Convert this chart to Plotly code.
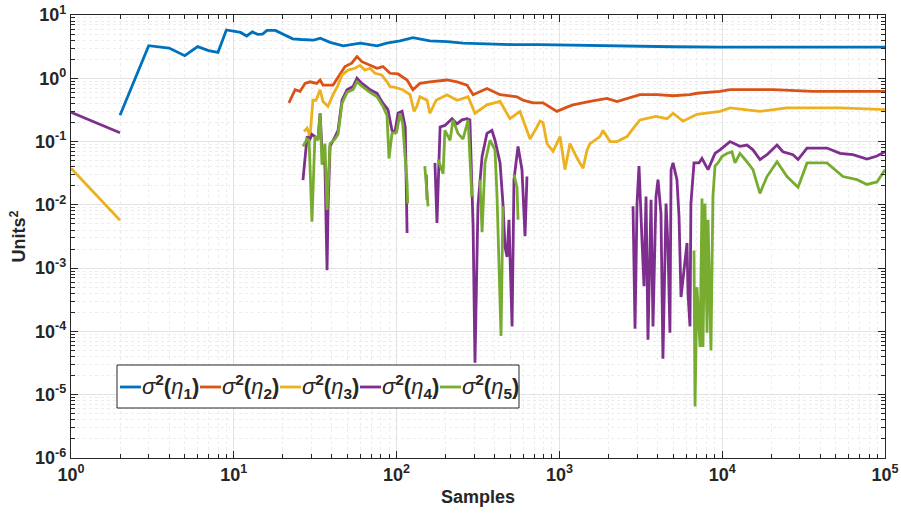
import plotly.graph_objects as go

# Running variance estimates of the five noise terms, (sample, value) pairs.
# A GAP entry breaks the line where the estimate is not positive.
GAP = (None, None)

VAR_ETA1 = [
    (2, 0.26), (3, 3.27), (4, 3.0), (5, 2.27), (6, 3.16), (7, 2.73), (8, 2.57), (9, 5.8),
    (11, 5.3), (12, 4.66), (13, 5.4), (14, 4.95), (15, 5.0), (16, 5.7), (18, 5.7), (20, 5.0),
    (21, 4.7), (23, 4.2), (26, 4.1), (31, 4.0), (34, 4.3), (39, 3.7), (47, 3.25), (60, 3.6),
    (76, 3.25), (87, 3.6), (105, 3.9), (126, 4.4), (160, 3.9), (205, 3.8), (256, 3.6),
    (350, 3.5), (520, 3.4), (750, 3.4), (1050, 3.35), (1774, 3.25), (3000, 3.2), (5000, 3.15),
    (9690, 3.1), (20000, 3.1), (50000, 3.1), (100000, 3.1),
]

VAR_ETA2 = [
    (21.8, 0.41), (23.8, 0.66), (25.5, 0.62), (27.4, 0.83), (29.4, 0.88), (32.3, 0.83),
    (33.9, 0.94), (35.3, 0.78), (40.7, 0.78), (44.9, 1.13), (48.2, 1.53), (53, 1.73),
    (57.1, 2.2), (61.2, 1.83), (68.7, 1.6), (75.8, 1.44), (82.5, 1.53), (91, 1.2), (102, 1.17),
    (116, 0.94), (126, 0.66), (139, 0.83), (160, 0.88), (204, 0.94), (235, 0.88), (271, 0.78),
    (295, 0.55), (359, 0.69), (432, 0.55), (549, 0.51), (597, 0.45), (689, 0.41), (793, 0.41),
    (966, 0.30), (1113, 0.35), (1213, 0.38), (1542, 0.43), (1960, 0.48), (2258, 0.43),
    (2833, 0.51), (3126, 0.55), (3980, 0.55), (4989, 0.53), (6340, 0.55), (7000, 0.58),
    (9690, 0.62), (11170, 0.66), (20500, 0.66), (36100, 0.62), (60000, 0.62), (100000, 0.62),
]

VAR_ETA3 = [
    (1, 0.038), (2, 0.0057), GAP,
    (27.0, 0.144), (28.2, 0.163), (29.4, 0.12), (30.6, 0.45), (32.0, 0.45), (33.9, 0.66),
    (35.3, 0.43), (37.9, 0.36), (40.7, 0.55), (43.7, 0.78), (46.2, 1.13), (50.3, 1.35),
    (55.5, 1.44), (59.6, 1.6), (63.9, 1.35), (68.7, 1.44), (73.7, 1.2), (81, 1.13),
    (87.3, 0.88), (91, 0.74), (97.7, 0.72), (109, 0.66), (121, 0.55), (128, 0.30), (133, 0.36),
    (139, 0.51), (154, 0.45), (160, 0.28), (175, 0.45), (204, 0.55), (235, 0.45), (275, 0.51),
    (303, 0.28), (359, 0.38), (432, 0.43), (497, 0.23), (573, 0.30), (660, 0.11), (728, 0.17),
    (760, 0.21), (793, 0.2), (839, 0.093), (914, 0.07), (1009, 0.12), (1082, 0.036),
    (1161, 0.093), (1283, 0.055), (1397, 0.038), (1479, 0.074), (1542, 0.093), (1608, 0.1),
    (1774, 0.12), (1852, 0.15), (2047, 0.10), (2258, 0.1), (2603, 0.12), (2833, 0.16),
    (3126, 0.22), (3919, 0.25), (4580, 0.23), (4989, 0.28), (5741, 0.21), (7000, 0.27),
    (9690, 0.30), (11170, 0.34), (17060, 0.30), (25000, 0.34), (52950, 0.34), (100000, 0.32),
]

VAR_ETA4 = [
    (1, 0.29), (2, 0.138), GAP,
    (26.6, 0.0247), (28.2, 0.12), (29.4, 0.11), (30.2, 0.13), (31.5, 0.12), (32.9, 0.11),
    (33.9, 0.28), (34.8, 0.074), (36.3, 0.041), (37.4, 0.00093), (37.9, 0.0083), (39.0, 0.084),
    (41.9, 0.12), (43.7, 0.15), (46.2, 0.45), (49.6, 0.66), (54, 0.74), (57.1, 1.0),
    (61.2, 0.83), (68.7, 0.66), (75.8, 0.58), (82.5, 0.40), (88.5, 0.32), (93.7, 0.15),
    (97.7, 0.14), (102, 0.28), (108, 0.30), (113, 0.17), (116, 0.0036), GAP,
    (152, 0.03), (154, 0.012), GAP,
    (172, 0.046), (177, 0.0052), (185, 0.17), (198, 0.18), (219, 0.23), (235, 0.19),
    (252, 0.22), (271, 0.23), (282, 0.22), (290, 0.0135), (295, 0.0045), (303, 3.2e-5),
    (316, 0.0095), (335, 0.058), (359, 0.135), (385, 0.15), (402, 0.105), (432, 0.046),
    (450, 0.0105), (463, 0.0022), (477, 0.0015), (490, 0.0058), (512, 1.2e-4), (526, 0.025),
    (557, 0.084), (589, 0.036), (615, 0.0032), (632, 0.028), GAP,
    (2833, 0.0095), (2914, 1.1e-4), (2998, 0.0105), (3083, 0.041), (3215, 0.0028),
    (3308, 5.2e-4), (3405, 0.0135), (3500, 7.4e-5), (3655, 0.012), (3758, 1.2e-4),
    (3919, 0.0135), (4034, 0.025), (4207, 0.0073), (4325, 3.7e-5), (4519, 0.0105),
    (4645, 0.0022), (4775, 9.5e-5), (4853, 0.036), (4989, 0.046), (5272, 0.025),
    (5431, 0.0065), (5585, 3.5e-4), (6080, 0.0025), (6165, 4e-4), (6340, 1.2e-4),
    (6425, 0.0105), (6710, 0.046), (7200, 0.046), (7515, 0.054), (7834, 0.043), (8185, 0.036),
    (9030, 0.065), (9690, 0.074), (11170, 0.1), (12850, 0.084), (14190, 0.088), (15450, 0.074),
    (17060, 0.052), (18840, 0.062), (21720, 0.088), (23600, 0.069), (27220, 0.062),
    (29230, 0.052), (33200, 0.079), (44000, 0.079), (52950, 0.065), (63500, 0.062),
    (77500, 0.053), (89300, 0.059), (100000, 0.069),
]

VAR_ETA5 = [
    (26.6, 0.084), (28.2, 0.11), (29.0, 0.105), (30.2, 0.0054), (31.5, 0.12), (32.9, 0.105),
    (33.9, 0.28), (34.8, 0.043), (36.3, 0.093), (37.4, 0.0083), (39.0, 0.093), (41.9, 0.11),
    (43.7, 0.13), (46.2, 0.40), (49.6, 0.6), (54, 0.66), (57.1, 0.88), (61.2, 0.75),
    (68.7, 0.6), (75.8, 0.51), (82.5, 0.36), (87.3, 0.26), (89.8, 0.054), (93.7, 0.135),
    (100, 0.14), (105, 0.28), (109, 0.19), (116, 0.022), (117, 0.0105), GAP,
    (149, 0.041), (156, 0.0095), GAP,
    (180, 0.052), (193, 0.031), (198, 0.15), (213, 0.105), (222, 0.22), (238, 0.135),
    (256, 0.11), (275, 0.22), (290, 0.0135), GAP,
    (325, 0.025), (335, 0.0037), (349, 0.046), (375, 0.105), (402, 0.074), (414, 0.0135),
    (438, 8.5e-5), (450, 0.0095), GAP,
    (526, 0.03), (549, 0.019), (557, 0.0058), GAP,
    (6710, 0.0019), (6808, 6.5e-6), (7000, 5e-4), (7310, 5.7e-5), (7515, 0.0126),
    (7620, 5.7e-5), (7834, 0.0105), (8070, 9.5e-5), (8185, 0.0058), (8530, 5e-5),
    (8770, 0.0135), (9030, 0.041), (9420, 0.046), (9970, 0.058), (10700, 0.065),
    (11480, 0.069), (11990, 0.046), (12850, 0.065), (14190, 0.048), (15450, 0.036),
    (17060, 0.0152), (18840, 0.028), (21720, 0.048), (25000, 0.028), (29230, 0.019),
    (33200, 0.046), (44000, 0.046), (55200, 0.028), (67300, 0.025), (77500, 0.021),
    (89300, 0.023), (100000, 0.036),
]

SERIES = [VAR_ETA1, VAR_ETA2, VAR_ETA3, VAR_ETA4, VAR_ETA5]
LEGEND_IDX = ["1", "2", "3", "4", "5"]
COLORS = ["#0072BD", "#D95319", "#EDB120", "#7E2F8E", "#77AC30"]

X_EXPONENTS = [0, 1, 2, 3, 4, 5]
Y_EXPONENTS = [-6, -5, -4, -3, -2, -1, 0, 1]

# Figure geometry (pixels)
W, H = 901, 515
M_L, M_R, M_T, M_B = 71, 16, 15, 57
PLOT_W = W - M_L - M_R
PLOT_H = H - M_T - M_B

INK = "#262626"
FONT = "Liberation Sans, Arial, Helvetica, sans-serif"

fig = go.Figure()
for pts, color in zip(SERIES, COLORS):
    fig.add_trace(go.Scatter(
        x=[p[0] for p in pts],
        y=[p[1] for p in pts],
        mode="lines",
        line=dict(color=color, width=2.8),
        connectgaps=False,
        showlegend=False,
        hoverinfo="skip",
    ))


def tick_text(e):
    return "10<sup>%d</sup>" % e if e >= 0 else "10<sup>-%d</sup>" % (-e)


def minor_vals(e_lo, e_hi):
    return [k * 10.0 ** e for e in range(e_lo, e_hi) for k in range(2, 10)]


axis_style = dict(
    type="log",
    automargin=False,
    showline=True, linecolor=INK, linewidth=1.3, mirror="allticks",
    ticks="inside", ticklen=7, tickwidth=1, tickcolor=INK,
    showgrid=True, gridcolor="#e3e3e3", gridwidth=1,
    zeroline=False,
    tickfont=dict(family=FONT, size=18, color=INK, weight="bold"),
)
minor_style = dict(ticks="inside", ticklen=4, tickwidth=1, tickcolor=INK,
                   showgrid=True, gridcolor="#ededed", griddash="dot", gridwidth=1)

fig.update_xaxes(
    range=[0, 5],
    tickmode="array",
    tickvals=[10.0 ** e for e in X_EXPONENTS],
    ticktext=[tick_text(e) for e in X_EXPONENTS],
    minor=dict(tickmode="array", tickvals=minor_vals(0, 5), **minor_style),
    title=dict(text="Samples", font=dict(family=FONT, size=18, color=INK, weight="bold"), standoff=6),
    **axis_style,
)
fig.update_yaxes(
    range=[-6, 1],
    tickmode="array",
    tickvals=[10.0 ** e for e in Y_EXPONENTS],
    ticktext=[tick_text(e) for e in Y_EXPONENTS],
    minor=dict(tickmode="array", tickvals=minor_vals(-6, 1), **minor_style),
    title=dict(text="Units<sup>2</sup>", font=dict(family=FONT, size=18, color=INK, weight="bold"), standoff=4),
    **axis_style,
)

# Legend: a single boxed row of entries inside the axes.
def pxx(px):
    return (px - M_L) / PLOT_W


def pxy(py):
    return 1 - (py - M_T) / PLOT_H


BOX = (117, 365, 519, 408)
ENTRY_X0, ENTRY_STEP, LINE_LEN, ROW_Y = 120, 80, 21, 387

shapes = [dict(type="rect", xref="paper", yref="paper",
               x0=pxx(BOX[0]), x1=pxx(BOX[2]), y0=pxy(BOX[3]), y1=pxy(BOX[1]),
               line=dict(color=INK, width=1), fillcolor="white", layer="above")]
annotations = []
for i, (idx, color) in enumerate(zip(LEGEND_IDX, COLORS)):
    x0 = ENTRY_X0 + i * ENTRY_STEP
    shapes.append(dict(type="line", xref="paper", yref="paper",
                       x0=pxx(x0), x1=pxx(x0 + LINE_LEN), y0=pxy(ROW_Y), y1=pxy(ROW_Y),
                       line=dict(color=color, width=2.8), layer="above"))
    annotations.append(dict(
        xref="paper", yref="paper", x=pxx(x0 + LINE_LEN), y=pxy(ROW_Y - 1),
        xanchor="left", yanchor="middle", showarrow=False,
        text="<i>σ</i><b><sup>2</sup></b><b>(</b><i>η</i><b><sub>%s</sub></b><b>)</b>" % idx,
        font=dict(family=FONT, size=22, color=INK),
        borderpad=0,
    ))

fig.update_layout(
    width=W, height=H,
    margin=dict(l=M_L, r=M_R, t=M_T, b=M_B),
    paper_bgcolor="white", plot_bgcolor="white",
    showlegend=False,
    shapes=shapes,
    annotations=annotations,
)

fig.write_html("out.html")
